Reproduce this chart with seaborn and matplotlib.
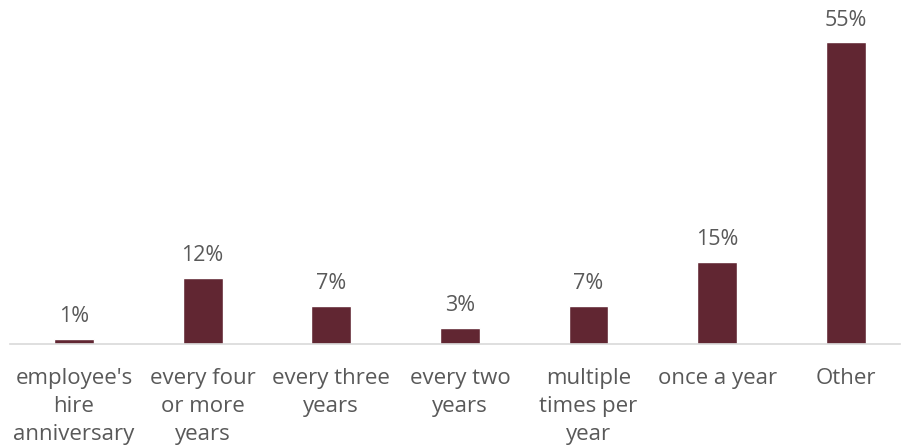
import matplotlib
matplotlib.use("Agg")
import matplotlib.pyplot as plt
import pandas as pd
import seaborn as sns

# dados
categories = ["employee's\nhire\nanniversary", "every four\nor more\nyears", "every three\nyears",
              "every two\nyears", "multiple\ntimes per\nyear", "once a year", "Other"]
values = [1, 12, 7, 3, 7, 15, 55]

df = pd.DataFrame({"cat": categories, "pct": values})

sns.set_style("white")
plt.rcParams['font.family'] = ['Open Sans', 'DejaVu Sans']

fig = plt.figure(figsize=(9.01, 4.47), dpi=100)
ax = fig.add_axes([0.0108, 0.2304, 0.9878, 0.736])

sns.barplot(data=df, x="cat", y="pct", color="#612632", saturation=1, width=0.31, ax=ax)

# rotulos de porcentagem acima das barras
for i, v in enumerate(values):
    ax.annotate(f"{v}%", (i, v), xytext=(0, 8.5), textcoords="offset points",
                ha="center", va="bottom", fontsize=15.5, color="#595959")

ax.set_xlim(-0.5, 6.42)
ax.set_ylim(0, 60)
ax.set_xlabel("")
ax.set_ylabel("")
ax.set_yticks([])
for s in ["top", "left", "right"]:
    ax.spines[s].set_visible(False)
ax.spines["bottom"].set_color("#d9d9d9")
ax.spines["bottom"].set_linewidth(1.2)
ax.tick_params(axis="x", length=0, pad=17.5, labelsize=16, labelcolor="#595959")
for lbl in ax.get_xticklabels():
    lbl.set_linespacing(1.43)
    lbl.set_verticalalignment("top")

fig.savefig("out.png", dpi=100)
